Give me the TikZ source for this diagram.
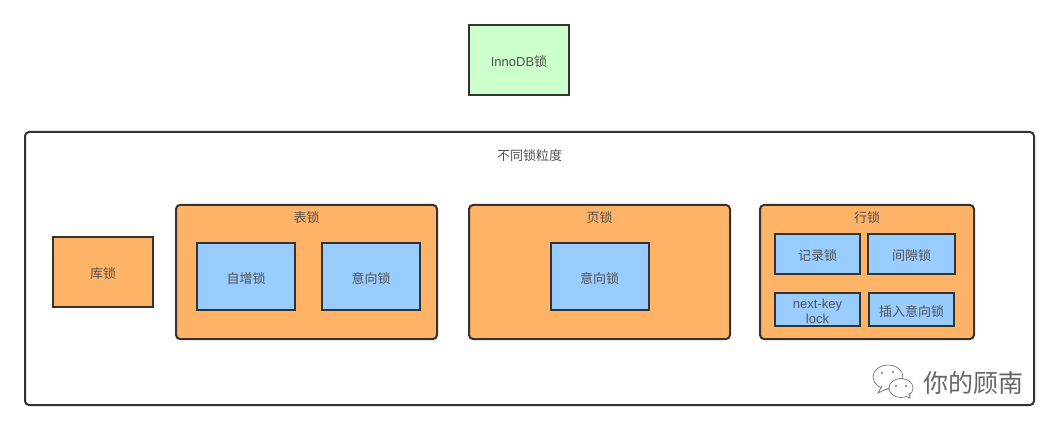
\documentclass[tikz,border=0pt]{standalone}
\usepackage{fontspec}
\setmainfont{Liberation Sans}
\newfontfamily\cjk{Noto Sans CJK SC}
\usetikzlibrary{positioning}
\definecolor{inkgray}{HTML}{333333}
\definecolor{lockgreen}{HTML}{CCFFCC}
\definecolor{lockorange}{HTML}{FFB366}
\definecolor{lockblue}{HTML}{99CCFF}
\tikzset{
  lockbox/.style={draw=inkgray, line width=2pt, outer sep=0pt, inner sep=0pt, align=center, text=inkgray!85, text height=15.5pt, text depth=2pt, font=\fontsize{13}{15}\selectfont},
  rootbox/.style={lockbox, fill=lockgreen, minimum width=100pt, minimum height=70pt},
  framebox/.style={lockbox, fill=white, rounded corners=4pt, minimum width=1009pt, minimum height=273pt},
  levelbox/.style={lockbox, fill=lockorange, minimum width=100pt, minimum height=70pt},
  groupbox/.style={lockbox, fill=lockorange, rounded corners=4pt, minimum height=134pt},
  kindbox/.style={lockbox, fill=lockblue, minimum width=98pt, minimum height=67pt},
  smallbox/.style={lockbox, fill=lockblue, minimum width=85pt},
  title/.style={text=inkgray!85, inner sep=0pt, font=\fontsize{13}{15}\selectfont},
  bubble/.style={draw=black!55, fill=white, line width=0.7pt}
}
\begin{document}
\begin{tikzpicture}[x=1pt, y=-1pt]
\useasboundingbox (0,0) rectangle (1059,430);
\node[rootbox] (innodb) at (519,60) {InnoDB{\cjk 锁}};
\node[framebox] (frame) at (529.5,268.5) {};
\node[title, below=17pt of frame.north] (frametitle) {\cjk 不同锁粒度};
\node[levelbox] (db) at (103,272) {\cjk 库锁};
% groups
\node[groupbox, minimum width=261pt, right=23pt of db] (table) {};
\node[groupbox, minimum width=261pt, right=32pt of table] (page) {};
\node[groupbox, minimum width=214pt, right=30pt of page] (row) {};
\node[title, below=6pt of table.north] (tabletitle) {\cjk 表锁};
\node[title, below=6pt of page.north] (pagetitle) {\cjk 页锁};
\node[title, below=6pt of row.north] (rowtitle) {\cjk 行锁};
% table locks
\node[kindbox, below right=38pt and 21pt of table.north west] (autoinc) {\cjk 自增锁};
\node[kindbox, right=27pt of autoinc] (tableintent) {\cjk 意向锁};
% page locks
\node[kindbox, below=38pt of page.north] (pageintent) {\cjk 意向锁};
% row locks
\node[smallbox, minimum height=40pt, below right=29pt and 15pt of row.north west] (record) {\cjk 记录锁};
\node[smallbox, minimum height=40pt, minimum width=87pt, right=8pt of record] (gap) {\cjk 间隙锁};
\node[smallbox, minimum height=33pt, below=19pt of record, text height=28pt, text depth=0pt] (nextkey) {next-key\\lock};
\node[smallbox, minimum height=33pt, right=9pt of nextkey] (insertintent) {\cjk 插入意向锁};
% watermark
\draw[bubble] (888,377) ellipse (15pt and 12pt);
\draw[bubble] (882,386) -- (878,393) -- (889,388);
\draw[bubble] (901,388) ellipse (12pt and 9.5pt);
\draw[bubble] (905,396) -- (910,398) -- (909,393);
\foreach \dotx/\doty in {882/373, 893/372, 896/386, 906/386}
  \fill[black!55] (\dotx,\doty) circle (1.2pt);
\node[text=black!60, inner sep=0pt, font=\cjk\fontsize{25}{28}\selectfont] (mark) at (973,383) {你的顾南};
\end{tikzpicture}
\end{document}
